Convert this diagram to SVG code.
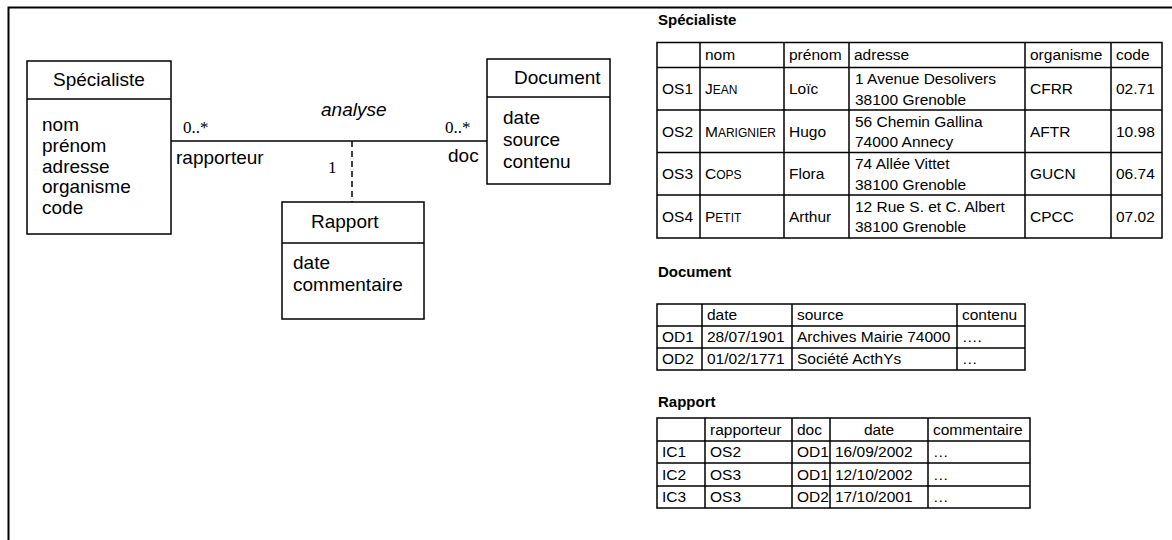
<svg xmlns="http://www.w3.org/2000/svg" width="1172" height="540" viewBox="0 0 1172 540">
<style>
text{font-family:"Liberation Sans",Arial,sans-serif;fill:#000}
.d{font-size:19px}
.dc{font-size:19px;text-anchor:middle}
.it{font-style:italic}
.ser{font-family:"Liberation Serif","Times New Roman",serif;font-size:17px}
.t{font-size:15.5px}
.tc{font-size:15.5px;text-anchor:middle}
.sc{font-size:12px}
.lbl{font-size:15px;font-weight:bold}
.box{fill:#fff;stroke:#000;stroke-width:1.5}
.ln{stroke:#000;stroke-width:1.5;fill:none}
.tb{stroke:#000;stroke-width:1.5;fill:none}
</style>
<rect width="1172" height="540" fill="#fff"/>
<path d="M8.5 540V7.5H1172" fill="none" stroke="#000" stroke-width="2"/>

<g id="connectors">
<line class="ln" x1="171" y1="141" x2="487" y2="141"/>
<line class="ln" x1="352" y1="141" x2="352" y2="202" stroke-dasharray="6 4"/>
<text class="ser" x="183" y="133">0..*</text>
<text class="d" x="176" y="164">rapporteur</text>
<text class="d it" x="321" y="116">analyse</text>
<text class="ser" x="445" y="133">0..*</text>
<text class="d" x="448" y="162">doc</text>
<text class="ser" x="328" y="173">1</text>
</g>

<g id="specialiste">
<rect class="box" x="27" y="61" width="144" height="173"/>
<line class="ln" x1="27" y1="99" x2="171" y2="99"/>
<text class="dc" x="99" y="86">Spécialiste</text>
<text class="d" x="42" y="131">nom</text>
<text class="d" x="42" y="152">prénom</text>
<text class="d" x="42" y="172.5">adresse</text>
<text class="d" x="42" y="193">organisme</text>
<text class="d" x="42" y="214">code</text>
</g>

<g id="document">
<rect class="box" x="487" y="59" width="123" height="125"/>
<line class="ln" x1="487" y1="97" x2="610" y2="97"/>
<text class="d" x="514" y="84">Document</text>
<text class="d" x="503" y="124">date</text>
<text class="d" x="503" y="146">source</text>
<text class="d" x="503" y="168">contenu</text>
</g>

<g id="rapport">
<rect class="box" x="282" y="202" width="142" height="117"/>
<line class="ln" x1="282" y1="243" x2="424" y2="243"/>
<text class="d" x="311" y="228">Rapport</text>
<text class="d" x="293" y="269">date</text>
<text class="d" x="293" y="291">commentaire</text>
</g>

<g id="table-specialiste">
<text class="lbl" x="658" y="25">Spécialiste</text>
<rect class="tb" x="657" y="42.5" width="505" height="195.5"/>
<path class="tb" d="M657 67.5H1162M657 110H1162M657 152.5H1162M657 195H1162M700 42.5V238M784 42.5V238M849 42.5V238M1025 42.5V238M1111 42.5V238"/>
<text class="t" x="705" y="60">nom</text>
<text class="t" x="789" y="60">prénom</text>
<text class="t" x="854" y="60">adresse</text>
<text class="t" x="1030" y="60">organisme</text>
<text class="t" x="1116" y="60">code</text>

<text class="t" x="662" y="94">OS1</text>
<text class="t" x="705" y="94">J<tspan class="sc">EAN</tspan></text>
<text class="t" x="789" y="94">Loïc</text>
<text class="t" x="855" y="84">1 Avenue Desolivers</text>
<text class="t" x="855" y="104.5">38100 Grenoble</text>
<text class="t" x="1030" y="94">CFRR</text>
<text class="t" x="1116" y="94">02.71</text>

<text class="t" x="662" y="136.5">OS2</text>
<text class="t" x="705" y="136.5">M<tspan class="sc">ARIGNIER</tspan></text>
<text class="t" x="789" y="136.5">Hugo</text>
<text class="t" x="855" y="126.5">56 Chemin Gallina</text>
<text class="t" x="855" y="147">74000 Annecy</text>
<text class="t" x="1030" y="136.5">AFTR</text>
<text class="t" x="1116" y="136.5">10.98</text>

<text class="t" x="662" y="179">OS3</text>
<text class="t" x="705" y="179">C<tspan class="sc">OPS</tspan></text>
<text class="t" x="789" y="179">Flora</text>
<text class="t" x="855" y="169">74 Allée Vittet</text>
<text class="t" x="855" y="189.5">38100 Grenoble</text>
<text class="t" x="1030" y="179">GUCN</text>
<text class="t" x="1116" y="179">06.74</text>

<text class="t" x="662" y="221.5">OS4</text>
<text class="t" x="705" y="221.5">P<tspan class="sc">ETIT</tspan></text>
<text class="t" x="789" y="221.5">Arthur</text>
<text class="t" x="855" y="211.5">12 Rue S. et C. Albert</text>
<text class="t" x="855" y="232">38100 Grenoble</text>
<text class="t" x="1030" y="221.5">CPCC</text>
<text class="t" x="1116" y="221.5">07.02</text>
</g>

<g id="table-document">
<text class="lbl" x="658" y="277">Document</text>
<rect class="tb" x="657" y="304" width="368" height="66"/>
<path class="tb" d="M657 326H1025M657 348H1025M702 304V370M792 304V370M957 304V370"/>
<text class="t" x="707" y="320">date</text>
<text class="t" x="797" y="320">source</text>
<text class="t" x="962" y="320">contenu</text>
<text class="t" x="662" y="342">OD1</text>
<text class="t" x="707" y="342">28/07/1901</text>
<text class="t" x="797" y="342">Archives Mairie 74000</text>
<text class="t" x="962" y="342">….</text>
<text class="t" x="662" y="364">OD2</text>
<text class="t" x="707" y="364">01/02/1771</text>
<text class="t" x="797" y="364">Société ActhYs</text>
<text class="t" x="962" y="364">…</text>
</g>

<g id="table-rapport">
<text class="lbl" x="658" y="407">Rapport</text>
<rect class="tb" x="657" y="418" width="373" height="90"/>
<path class="tb" d="M657 441H1030M657 463H1030M657 486H1030M705 418V508M792 418V508M830 418V508M928 418V508"/>
<text class="t" x="710" y="434.5">rapporteur</text>
<text class="t" x="797" y="434.5">doc</text>
<text class="tc" x="879" y="434.5">date</text>
<text class="t" x="933" y="434.5">commentaire</text>
<text class="t" x="662" y="457">IC1</text>
<text class="t" x="710" y="457">OS2</text>
<text class="t" x="797" y="457">OD1</text>
<text class="t" x="835" y="457">16/09/2002</text>
<text class="t" x="933" y="457">…</text>
<text class="t" x="662" y="479.5">IC2</text>
<text class="t" x="710" y="479.5">OS3</text>
<text class="t" x="797" y="479.5">OD1</text>
<text class="t" x="835" y="479.5">12/10/2002</text>
<text class="t" x="933" y="479.5">…</text>
<text class="t" x="662" y="502">IC3</text>
<text class="t" x="710" y="502">OS3</text>
<text class="t" x="797" y="502">OD2</text>
<text class="t" x="835" y="502">17/10/2001</text>
<text class="t" x="933" y="502">…</text>
</g>
</svg>
